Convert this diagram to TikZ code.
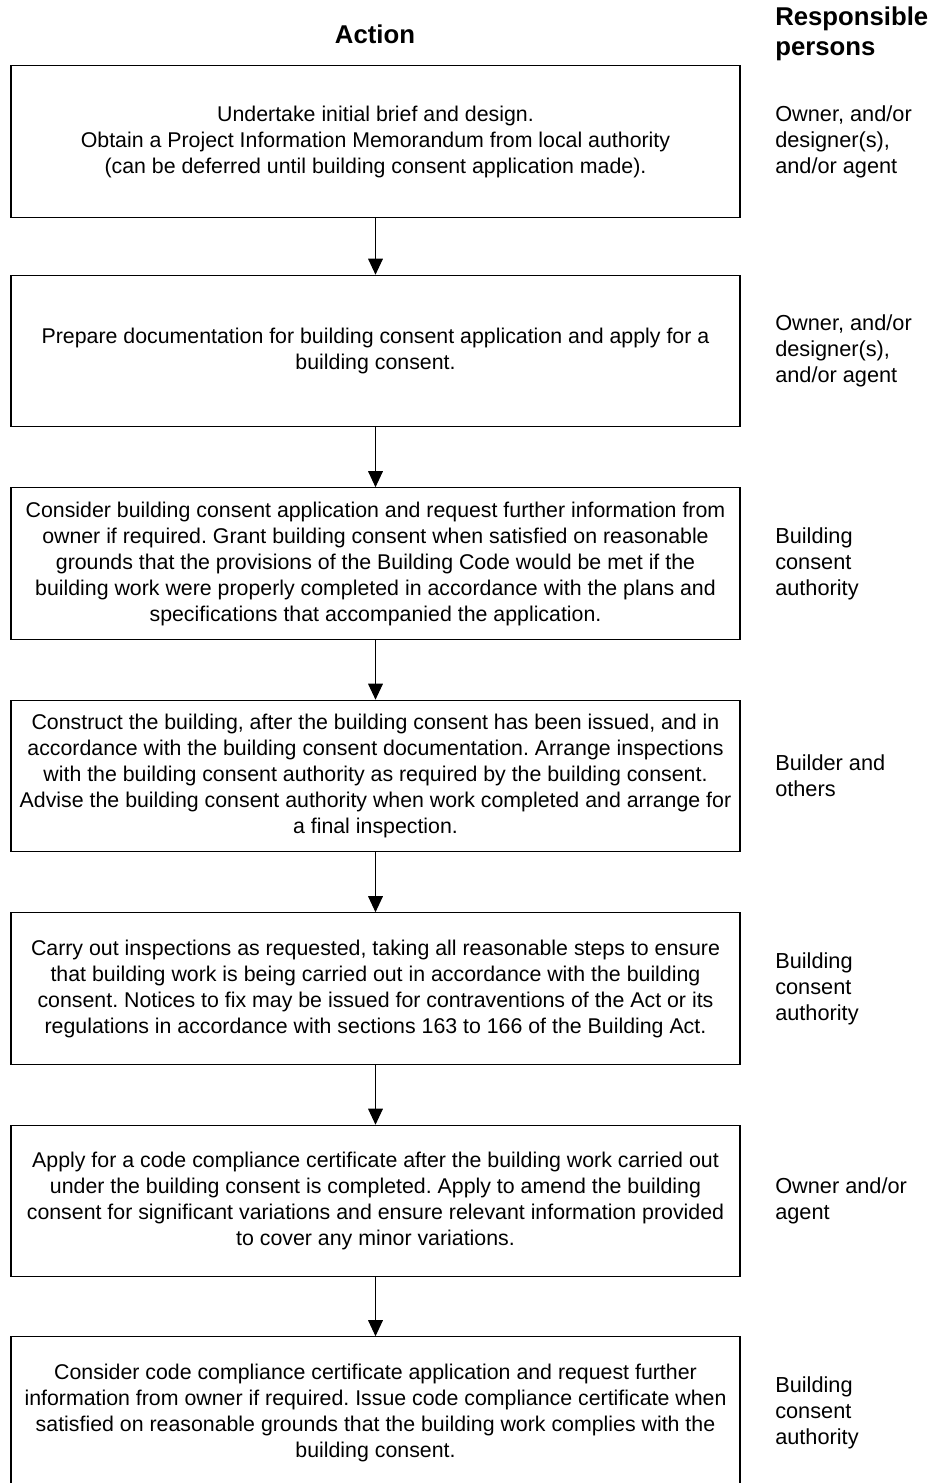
\documentclass[tikz,border=0pt]{standalone}
\usepackage{fontspec}
\setmainfont{Liberation Sans}
\usetikzlibrary{arrows.meta}
\frenchspacing
\begin{document}
\begin{tikzpicture}[x=0.75pt,y=-0.75pt,
  actbox/.style={draw,line width=0.9pt,minimum width=546.75pt,minimum height=113.5pt,inner sep=0pt,align=center,
    font=\fontsize{16}{19.5}\selectfont},
  resp/.style={anchor=west,align=left,inner sep=0pt,font=\fontsize{16.3}{19.5}\selectfont},
  head/.style={inner sep=0pt,font=\bfseries\fontsize{19.3}{22.5}\selectfont},
  flow/.style={line width=0.9pt,-{Triangle[width=11pt,length=12pt]}}]
\useasboundingbox (0,0) rectangle (932,1483);
\node[head] (hact) at (375,34) {Action};
\node[head,anchor=west,align=left] (hresp) at (775,34) {Responsible\\persons};

\node[actbox] (b1) at (375.5,141.5) {Undertake initial brief and design.\\Obtain a Project Information Memorandum from local authority\\(can be deferred until building consent application made).};
\node[actbox] (b2) at (375.5,351) {Prepare documentation for building consent application and apply for a\\building consent.};
\node[actbox] (b3) at (375.5,563.5) {Consider building consent application and request further information from\\owner if required. Grant building consent when satisfied on reasonable\\grounds that the provisions of the Building Code would be met if the\\building work were properly completed in accordance with the plans and\\specifications that accompanied the application.};
\node[actbox] (b4) at (375.5,776) {Construct the building, after the building consent has been issued, and in\\accordance with the building consent documentation. Arrange inspections\\with the building consent authority as required by the building consent.\\Advise the building consent authority when work completed and arrange for\\a final inspection.};
\node[actbox] (b5) at (375.5,988.5) {Carry out inspections as requested, taking all reasonable steps to ensure\\that building work is being carried out in accordance with the building\\consent. Notices to fix may be issued for contraventions of the Act or its\\regulations in accordance with sections 163 to 166 of the Building Act.};
\node[actbox] (b6) at (375.5,1201) {Apply for a code compliance certificate after the building work carried out\\under the building consent is completed. Apply to amend the building\\consent for significant variations and ensure relevant information provided\\to cover any minor variations.};
\node[actbox] (b7) at (375.5,1412.5) {Consider code compliance certificate application and request further\\information from owner if required. Issue code compliance certificate when\\satisfied on reasonable grounds that the building work complies with the\\building consent.};

\node[resp] (r1) at (775,141.5) {Owner, and/or\\designer(s),\\and/or agent};
\node[resp] (r2) at (775,351) {Owner, and/or\\designer(s),\\and/or agent};
\node[resp] (r3) at (775,563.5) {Building\\consent\\authority};
\node[resp] (r4) at (775,776) {Builder and\\others};
\node[resp] (r5) at (775,988.5) {Building\\consent\\authority};
\node[resp] (r6) at (775,1201) {Owner and/or\\agent};
\node[resp] (r7) at (775,1412.5) {Building\\consent\\authority};

\draw[flow] (b1) -- (b2);
\draw[flow] (b2) -- (b3);
\draw[flow] (b3) -- (b4);
\draw[flow] (b4) -- (b5);
\draw[flow] (b5) -- (b6);
\draw[flow] (b6) -- (b7);
\end{tikzpicture}
\end{document}
